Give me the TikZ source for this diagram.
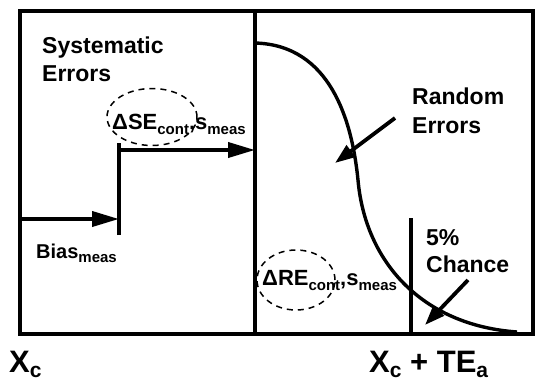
\documentclass[tikz,border=0pt]{standalone}
\usepackage{fontspec}
\setmainfont{Liberation Sans}
\usetikzlibrary{arrows.meta,shapes.geometric}
\newcommand\sbs[1]{\raisebox{-0.45ex}{\fontsize{15}{15}\selectfont #1}}
\newcommand\sbb[1]{\raisebox{-0.35ex}{\fontsize{21}{21}\selectfont #1}}
\begin{document}
\begin{tikzpicture}[x=1pt,y=-1pt,
  frame/.style={line width=3.2pt},
  lbl/.style={anchor=base west, inner sep=0pt, font=\fontsize{23}{27}\selectfont\bfseries},
  biglbl/.style={anchor=base west, inner sep=0pt, font=\fontsize{31}{35}\selectfont\bfseries},
  sublbl/.style={anchor=base west, inner sep=0pt, font=\fontsize{22}{26}\selectfont\bfseries},
  arr/.style={line width=3.8pt, -{Triangle[length=27pt,width=15pt]}},
  sarr/.style={line width=3.8pt, -{Triangle[length=20pt,width=14pt]}},
  ell/.style={draw, ellipse, dash pattern=on 6pt off 5pt, line width=1.5pt, inner sep=0pt}]
\useasboundingbox (0,0) rectangle (536,383);
% frame
\coordinate (tl) at (20,11);
\coordinate (br) at (533,334);
\coordinate (mt) at (255,11);
\coordinate (mb) at (255,334);
\draw[frame] (tl) rectangle (br);
\draw[frame] (mt) -- (mb);
% systematic steps
\coordinate (b0) at (20,219);
\coordinate (b1) at (119,219);
\coordinate (s0) at (119,235);
\coordinate (s1) at (119,143);
\coordinate (u0) at (119,150);
\coordinate (u1) at (255,150);
\draw[arr] (b0) -- (b1);
\draw[line width=3.8pt] (s0) -- (s1);
\draw[arr] (u0) -- (u1);
% random curve
\coordinate (c0) at (255,43);
\coordinate (c1) at (358,180);
\coordinate (c2) at (517,332);
\draw[line width=3.4pt] (c0) .. controls (330,45) and (352,120) .. (c1)
  .. controls (365,260) and (420,325) .. (c2);
% TE line
\coordinate (t0) at (411,218);
\coordinate (t1) at (411,334);
\draw[line width=3.8pt] (t0) -- (t1);
% ellipses
\node[ell, minimum width=90pt, minimum height=57pt] (e1) at (152,117) {};
\node[ell, minimum width=78pt, minimum height=60pt] (e2) at (296,280) {};
% texts
\node[lbl] (sys1) at (42,53) {Systematic};
\node[lbl] (sys2) at (42,81) {Errors};
\node[lbl] (ran1) at (412,104) {Random};
\node[lbl] (ran2) at (412,133) {Errors};
\node[lbl] (ch1) at (426,245) {5\%};
\node[lbl] (ch2) at (426,272) {Chance};
\node[sublbl] (se) at (112,129) {ΔSE\sbs{cont},s\sbs{meas}};
\node[sublbl] (re) at (262,285) {ΔRE\sbs{cont},s\sbs{meas}};
\node[anchor=base west, inner sep=0pt, font=\fontsize{20}{24}\selectfont\bfseries] (bias) at (36,258) {Bias\sbs{meas}};
\node[biglbl] (xc) at (9,372) {X\sbb{c}};
\node[biglbl] (xte) at (369,372) {X\sbb{c} + TE\sbb{a}};
% pointer arrows
\coordinate (ra0) at (395,118);
\coordinate (ra1) at (335,163);
\draw[sarr] (ra0) -- (ra1);
\coordinate (ca0) at (468,280);
\coordinate (ca1) at (425,325);
\draw[sarr] (ca0) -- (ca1);
\end{tikzpicture}
\end{document}
